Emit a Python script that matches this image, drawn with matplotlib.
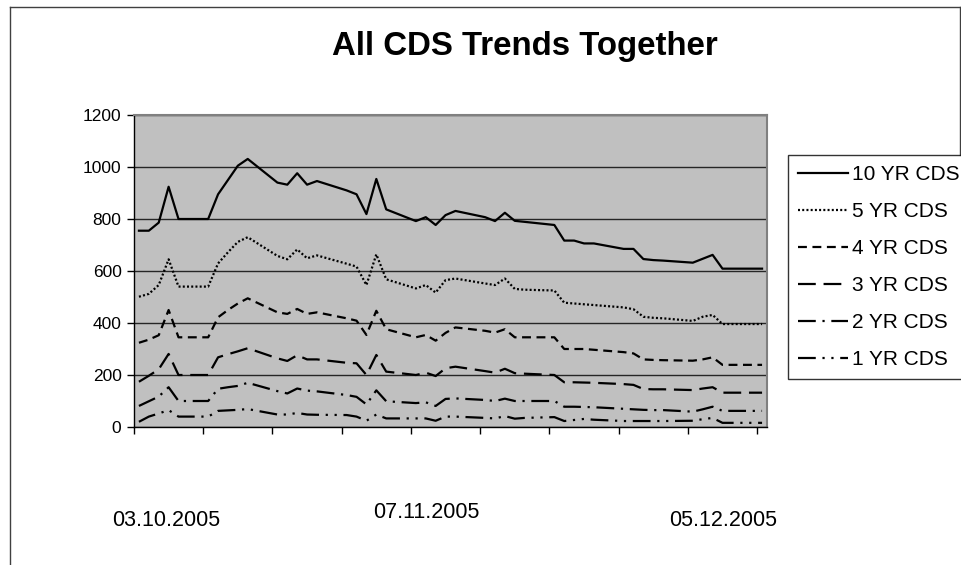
import matplotlib
matplotlib.use("Agg")
import matplotlib.pyplot as plt
import matplotlib.dates as mdates
from matplotlib.lines import Line2D
import pandas as pd

plt.rcParams["font.family"] = ["Liberation Sans", "DejaVu Sans"]

# Trading days, 03.10.2005 - 05.12.2005
dates = pd.bdate_range("2005-10-03", "2005-12-05")

cds_10y = [755, 755, 786, 924, 800, 800, 895, 950, 1005, 1031,
           940, 932, 976, 932, 946, 910, 895, 819, 954, 837,
           792, 807, 777, 815, 831, 807, 792, 824, 793, 789,
           777, 717, 717, 706, 706, 685, 685, 646, 642, 640,
           632, 647, 662, 609, 609, 609]
cds_5y = [501, 512, 546, 645, 540, 540, 629, 672, 712, 730,
          658, 645, 683, 649, 660, 628, 617, 546, 664, 568,
          533, 546, 517, 565, 571, 552, 546, 571, 531, 528,
          525, 478, 475, 472, 469, 460, 453, 424, 420, 418,
          408, 424, 431, 396, 396, 396]
cds_4y = [324, 336, 353, 450, 345, 345, 422, 450, 475, 495,
          441, 435, 454, 435, 441, 418, 409, 354, 447, 376,
          345, 354, 332, 362, 383, 370, 363, 376, 345, 345,
          345, 300, 300, 300, 297, 288, 283, 260, 258, 257,
          255, 260, 268, 239, 239, 239]
cds_3y = [174, 197, 222, 281, 200, 200, 268, 280, 291, 303,
          264, 254, 276, 260, 260, 247, 245, 200, 277, 213,
          200, 209, 196, 226, 232, 215, 209, 224, 207, 205,
          200, 172, 172, 171, 170, 165, 162, 146, 145, 145,
          142, 148, 153, 132, 132, 132]
cds_2y = [81, 99, 117, 153, 100, 100, 147, 153, 158, 170,
          138, 129, 148, 140, 137, 123, 116, 87, 141, 99,
          92, 95, 81, 108, 110, 104, 100, 109, 100, 100,
          100, 78, 78, 77, 76, 70, 68, 66, 65, 65,
          59, 68, 78, 62, 62, 62]
cds_1y = [20, 40, 52, 65, 40, 40, 62, 64, 66, 69,
          48, 48, 54, 48, 47, 46, 40, 24, 48, 33,
          33, 33, 24, 40, 40, 35, 33, 42, 32, 35,
          38, 23, 27, 31, 28, 23, 23, 23, 23, 23,
          24, 30, 35, 16, 16, 16]

series_names = ["10 YR CDS", "5 YR CDS", "4 YR CDS", "3 YR CDS", "2 YR CDS", "1 YR CDS"]
series_values = [cds_10y, cds_5y, cds_4y, cds_3y, cds_2y, cds_1y]
# Excel-like line dash styles (solid, round dot, dash, long dash,
# long dash-dot, long dash-dot-dot)
line_styles = ["-", (0, (0.9, 1.0)), (0, (4, 2.5)), (0, (8, 3.5)),
               (0, (8, 3, 1, 3)), (0, (8, 3, 1, 3, 1, 3))]

date_labels = ["03.10.2005", "07.11.2005", "05.12.2005"]
date_label_pos = [(166, 520), (426, 512), (723, 521)]

W, H = 961, 565
fig = plt.figure(figsize=(W / 100, H / 100), dpi=100)
fig.patch.set_facecolor("white")

ax = fig.add_axes([134 / W, 1 - 427 / H, 633 / W, 312 / H])
ax.set_facecolor("#C0C0C0")

# each trading day sits in the middle of its one-day slot
x = mdates.date2num(dates) + 0.5
handles = []
for name, vals, ls in zip(series_names, series_values, line_styles):
    h, = ax.plot(x, vals, color="black", lw=1.6, linestyle=ls, label=name)
    handles.append(h)

ax.set_ylim(0, 1200)
ax.set_yticks(range(0, 1201, 200))
ax.set_xlim(mdates.date2num(pd.Timestamp("2005-10-03")),
            mdates.date2num(pd.Timestamp("2005-12-06")))
ax.xaxis.set_major_locator(mdates.WeekdayLocator(byweekday=mdates.MO))
ax.xaxis.set_major_formatter(plt.NullFormatter())

ax.grid(axis="y", color="#262626", lw=1.0)
ax.set_axisbelow(True)
ax.tick_params(axis="both", direction="out", length=5, width=1, color="black",
               labelsize=12.5, pad=4)
for side in ("left", "bottom"):
    ax.spines[side].set_color("black")
    ax.spines[side].set_linewidth(1.0)
for side in ("top", "right"):
    ax.spines[side].set_color("#808080")
    ax.spines[side].set_linewidth(1.5)

fig.text(525 / W, 1 - 47 / H, "All CDS Trends Together", ha="center", va="center",
         fontsize=23.8, fontweight="bold")

for lab, (px, py) in zip(date_labels, date_label_pos):
    fig.text(px / W, 1 - py / H, lab, ha="center", va="center", fontsize=15.5)

leg = fig.legend(handles=handles, loc="upper left",
                 bbox_to_anchor=(788 / W, 1 - 155 / H), fontsize=15,
                 frameon=True, fancybox=False, edgecolor="black",
                 handlelength=2.4, handletextpad=0.15, labelspacing=0.86,
                 borderpad=0.5, borderaxespad=0)
leg.get_frame().set_linewidth(1.0)

# chart-area border
frame_color = "#404040"
fig.add_artist(Line2D([10 / W, 10 / W], [0, 1 - 7 / H], color=frame_color, lw=1))
fig.add_artist(Line2D([10 / W, 960 / W], [1 - 7 / H, 1 - 7 / H], color=frame_color, lw=1))
fig.add_artist(Line2D([960 / W, 960 / W], [1 - 7 / H, 1 - 155 / H], color=frame_color, lw=1))

fig.savefig("out.png", dpi=100)
